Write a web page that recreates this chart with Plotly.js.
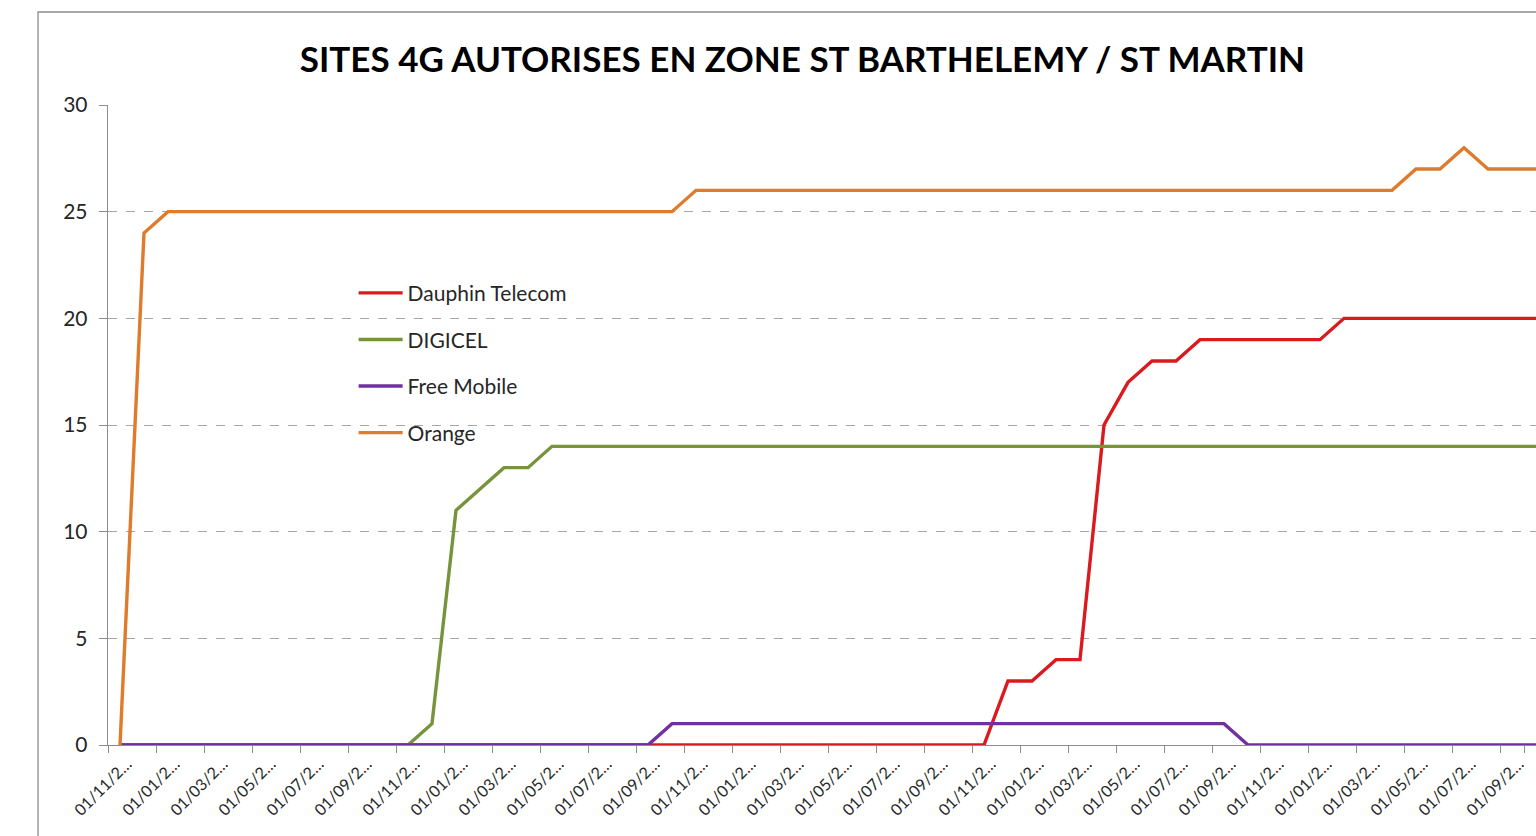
<!DOCTYPE html>
<html>
<head>
<meta charset="utf-8">
<script src="https://cdn.plot.ly/plotly-3.0.1.min.js"></script>
<style>html,body{margin:0;padding:0;background:#fff;}#chart{width:1536px;height:836px;}</style>
</head>
<body>
<div id="chart"></div>
<script>
var months = [
"01/11/2012","01/12/2012",
"01/01/2013","01/02/2013","01/03/2013","01/04/2013","01/05/2013","01/06/2013","01/07/2013","01/08/2013","01/09/2013","01/10/2013","01/11/2013","01/12/2013",
"01/01/2014","01/02/2014","01/03/2014","01/04/2014","01/05/2014","01/06/2014","01/07/2014","01/08/2014","01/09/2014","01/10/2014","01/11/2014","01/12/2014",
"01/01/2015","01/02/2015","01/03/2015","01/04/2015","01/05/2015","01/06/2015","01/07/2015","01/08/2015","01/09/2015","01/10/2015","01/11/2015","01/12/2015",
"01/01/2016","01/02/2016","01/03/2016","01/04/2016","01/05/2016","01/06/2016","01/07/2016","01/08/2016","01/09/2016","01/10/2016","01/11/2016","01/12/2016",
"01/01/2017","01/02/2017","01/03/2017","01/04/2017","01/05/2017","01/06/2017","01/07/2017","01/08/2017","01/09/2017","01/10/2017"
];
var tickLabels = ["01/11/2…","01/01/2…","01/03/2…","01/05/2…","01/07/2…","01/09/2…",
"01/11/2…","01/01/2…","01/03/2…","01/05/2…","01/07/2…","01/09/2…",
"01/11/2…","01/01/2…","01/03/2…","01/05/2…","01/07/2…","01/09/2…",
"01/11/2…","01/01/2…","01/03/2…","01/05/2…","01/07/2…","01/09/2…",
"01/11/2…","01/01/2…","01/03/2…","01/05/2…","01/07/2…","01/09/2…"];

var dauphin = [0,0,0,0,0,0,0,0,0,0, 0,0,0,0,0,0,0,0,0,0, 0,0,0,0,0,0,0,0,0,0, 0,0,0,0,0,0,0,3,3,4, 4,15,17,18,18,19,19,19,19,19, 19,20,20,20,20,20,20,20,20,20];
var digicel = [0,0,0,0,0,0,0,0,0,0, 0,0,0,1,11,12,13,13,14,14, 14,14,14,14,14,14,14,14,14,14, 14,14,14,14,14,14,14,14,14,14, 14,14,14,14,14,14,14,14,14,14, 14,14,14,14,14,14,14,14,14,14];
var freeMobile = [0,0,0,0,0,0,0,0,0,0, 0,0,0,0,0,0,0,0,0,0, 0,0,0,1,1,1,1,1,1,1, 1,1,1,1,1,1,1,1,1,1, 1,1,1,1,1,1,1,0,0,0, 0,0,0,0,0,0,0,0,0,0];
var orange = [0,24,25,25,25,25,25,25,25,25, 25,25,25,25,25,25,25,25,25,25, 25,25,25,25,26,26,26,26,26,26, 26,26,26,26,26,26,26,26,26,26, 26,26,26,26,26,26,26,26,26,26, 26,26,26,26,27,27,28,27,27,27];

var seriesNames = ["Dauphin Telecom","DIGICEL","Free Mobile","Orange"];
var seriesData = [dauphin, digicel, freeMobile, orange];
var seriesColors = ["#DA1A1F","#77933C","#7030A0","#DE7B2C"];

var traces = seriesNames.map(function(n, k){
  return {
    type: 'scatter', mode: 'lines', name: n, x: months, y: seriesData[k],
    line: {color: seriesColors[k], width: 3.4},
    legendgroup: 'g' + k
  };
});

var tickVals = months.filter(function(m, i){ return i % 2 === 0; });

var layout = {
  width: 1536, height: 836,
  paper_bgcolor: '#ffffff', plot_bgcolor: '#ffffff',
  margin: {l: 108, r: 0, t: 105, b: 91},
  font: {family: 'Lato, "Open Sans", sans-serif', color: '#262626'},
  title: {
    text: '<b>SITES 4G AUTORISES EN ZONE ST BARTHELEMY / ST MARTIN</b>',
    font: {family: 'Lato, "Open Sans", sans-serif', size: 35, color: '#000000'},
    x: 0.4863, xref: 'paper', xanchor: 'center',
    y: 0.928, yref: 'container', yanchor: 'middle'
  },
  showlegend: true,
  legend: {
    x: 0.172, y: 0.738, xanchor: 'left', yanchor: 'top',
    bgcolor: 'rgba(0,0,0,0)', tracegroupgap: 16.3,
    font: {size: 21, color: '#262626'},
    traceorder: 'grouped', itemwidth: 44
  },
  xaxis: {
    type: 'category',
    range: [-0.5, 59],
    tickmode: 'array', tickvals: tickVals, ticktext: tickLabels,
    tickson: 'boundaries',
    tickangle: -45,
    ticks: 'outside', ticklen: 7, tickcolor: '#8c8c8c', tickwidth: 1,
    ticklabelshift: 7, ticklabelstandoff: 2,
    showline: true, linecolor: '#8c8c8c', linewidth: 1.3,
    showgrid: false, zeroline: false,
    tickfont: {size: 16, color: '#262626'}
  },
  yaxis: {
    range: [0, 30], dtick: 5, tick0: 0,
    ticks: 'outside', ticklen: 8, tickcolor: '#8c8c8c',
    ticklabelstandoff: 7,
    showline: true, linecolor: '#8c8c8c', linewidth: 1.3,
    showgrid: true, gridcolor: '#a6a6a6', griddash: 'dash', gridwidth: 1,
    zeroline: false,
    tickfont: {size: 21, color: '#262626'}
  },
  shapes: [{
    type: 'rect', xref: 'paper', yref: 'paper',
    x0: -0.049, x1: 1.2, y0: -0.5, y1: 1.1453,
    line: {color: '#8c8c8c', width: 1.3}, fillcolor: 'rgba(0,0,0,0)', layer: 'below'
  }]
};

Plotly.newPlot('chart', traces, layout, {displayModeBar: false, staticPlot: true});
</script>
</body>
</html>
